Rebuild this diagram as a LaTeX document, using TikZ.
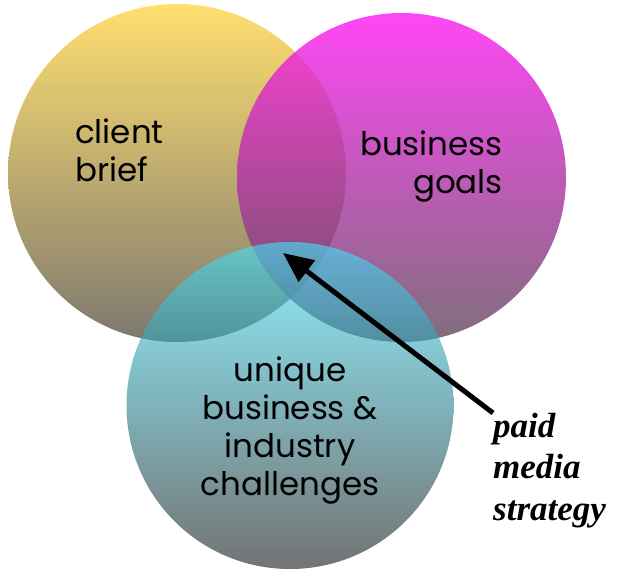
\documentclass[tikz,border=0pt]{standalone}
\usepackage{fontspec}
\setmainfont{Poppins}
\newfontfamily\pmsfont{Liberation Serif}
\usetikzlibrary{arrows.meta}
\definecolor{ytop}{RGB}{255,223,110}
\definecolor{ybot}{RGB}{125,120,112}
\definecolor{mtop}{RGB}{255,24,242}
\definecolor{mbot}{RGB}{96,74,92}
\definecolor{ttop}{RGB}{65,230,255}
\definecolor{tbot}{RGB}{22,22,22}
\tikzset{
  venn/.style={circle, inner sep=0pt, draw=none},
  lbl/.style={inner sep=0pt, font=\fontsize{32.5}{38}\selectfont, text=black},
  scr/.style={inner sep=0pt, font=\pmsfont\bfseries\itshape\fontsize{35}{41.5}\selectfont, text=black},
  pointer/.style={line width=5pt, -{Triangle[length=30pt,width=26pt]}}
}
\begin{document}
\begin{tikzpicture}[x=1pt,y=-1pt]
\useasboundingbox (0,0) rectangle (637,588);
\node[venn, minimum size=338pt, top color=ytop, bottom color=ybot] (yc) at (177,173) {};
\node[venn, minimum size=329pt, top color=mtop, bottom color=mbot, fill opacity=0.8] (mc) at (401.5,177.5) {};
\node[venn, minimum size=327pt, top color=ttop, bottom color=tbot, fill opacity=0.6] (tc) at (290,405.5) {};
\node[lbl, anchor=base west, align=left] (cb) at (75,182) {client\\brief};
\node[lbl, anchor=base east, align=right] (bg) at (503,194) {business\\goals};
\node[lbl, anchor=base, align=center] (ub) at (290,495) {unique\\business \&\\industry\\challenges};
\node[scr, anchor=base west, align=left] (pms) at (493,520) {paid\\media\\strategy};
\coordinate (tail) at (493,413);
\coordinate (tip) at (283,253);
\draw[pointer] (tail) -- (tip);
\end{tikzpicture}
\end{document}
